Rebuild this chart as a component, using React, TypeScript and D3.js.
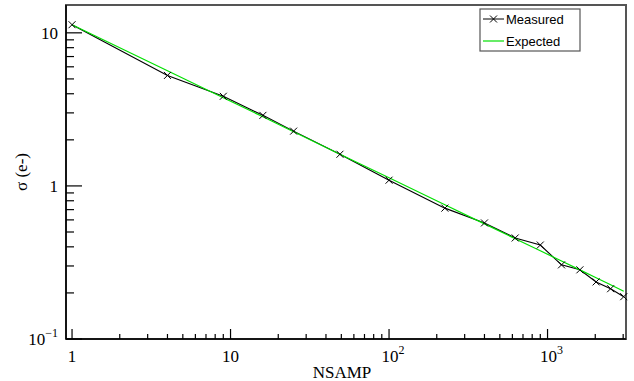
import React, { useEffect, useRef } from "react";
import * as d3 from "d3";

// NSAMP values and noise readings
const nsamp = [1, 4, 9, 16, 25, 49, 100, 225, 400, 625, 900, 1225, 1600, 2025, 2500, 3025];
const measured = [11.3, 5.27, 3.85, 2.89, 2.28, 1.61, 1.09, 0.716, 0.573, 0.457, 0.411, 0.305, 0.283, 0.236, 0.213, 0.189];
const expected = [11.3, 5.65, 3.77, 2.83, 2.26, 1.61, 1.13, 0.753, 0.565, 0.452, 0.377, 0.323, 0.283, 0.251, 0.226, 0.205];
const xTickLabels = [
  { v: 1, base: "1", exp: "" },
  { v: 10, base: "10", exp: "" },
  { v: 100, base: "10", exp: "2" },
  { v: 1000, base: "10", exp: "3" },
];
const yTickLabels = [
  { v: 0.1, base: "10", exp: "\u22121" },
  { v: 1, base: "1", exp: "" },
  { v: 10, base: "10", exp: "" },
];

const App = () => {
  const ref = useRef<SVGSVGElement>(null);

  useEffect(() => {
    const svg = d3.select(ref.current);
    svg.selectAll("*").remove();

    const left = 66, right = 626, top = 5, bottom = 339;
    const x = d3.scaleLog().domain([0.916, 3126]).range([left, right]);
    const y = d3.scaleLog().domain([0.1, 15.2]).range([bottom, top]);
    const serif = "'Liberation Serif', 'DejaVu Serif', serif";
    const sans = "'Liberation Sans', Arial, sans-serif";

    svg.append("rect").attr("width", 634).attr("height", 381).attr("fill", "white");

    // frame
    svg.append("rect")
      .attr("x", left).attr("y", top).attr("width", right - left).attr("height", bottom - top)
      .attr("fill", "none").attr("stroke", "#555").attr("stroke-width", 2);
    svg.append("line").attr("x1", left).attr("x2", left).attr("y1", top).attr("y2", bottom)
      .attr("stroke", "black").attr("stroke-width", 1.5);
    svg.append("line").attr("x1", left).attr("x2", right).attr("y1", bottom).attr("y2", bottom)
      .attr("stroke", "black").attr("stroke-width", 1.5);

    // x ticks
    const xt: { v: number; major: boolean }[] = [];
    for (let d = 1; d <= 1000; d *= 10) {
      for (let k = 1; k <= 9; k++) {
        const v = d * k;
        if (v <= 3126) xt.push({ v, major: k === 1 });
      }
    }
    svg.append("g").selectAll("line").data(xt).enter().append("line")
      .attr("x1", d => x(d.v)).attr("x2", d => x(d.v))
      .attr("y1", bottom).attr("y2", d => bottom - (d.major ? 10 : 5))
      .attr("stroke", "black").attr("stroke-width", 1.2);

    // y ticks
    const yt: { v: number; major: boolean }[] = [];
    for (let d = 0.1; d <= 10; d *= 10) {
      for (let k = 1; k <= 9; k++) {
        const v = d * k;
        if (v <= 15.2) yt.push({ v, major: k === 1 });
      }
    }
    svg.append("g").selectAll("line").data(yt).enter().append("line")
      .attr("x1", left).attr("x2", d => left + (d.major ? 16 : 8))
      .attr("y1", d => y(d.v)).attr("y2", d => y(d.v))
      .attr("stroke", "black").attr("stroke-width", 1.2);

    // x tick labels
    const xl = svg.append("g").selectAll("text").data(xTickLabels).enter().append("text")
      .attr("x", d => x(d.v) + (d.exp ? 4 : 0)).attr("y", 362)
      .attr("text-anchor", "middle").attr("font-family", serif).attr("font-size", 17);
    xl.append("tspan").text(d => d.base);
    xl.append("tspan").attr("dy", -8).attr("font-size", 12).text(d => d.exp);

    // y tick labels
    const yl = svg.append("g").selectAll("text").data(yTickLabels).enter().append("text")
      .attr("x", 58).attr("y", d => y(d.v) + 6)
      .attr("text-anchor", "end").attr("font-family", serif).attr("font-size", 17);
    yl.append("tspan").text(d => d.base);
    yl.append("tspan").attr("dy", -8).attr("font-size", 12).text(d => d.exp);

    // axis titles
    svg.append("text").attr("x", 342).attr("y", 378).attr("text-anchor", "middle")
      .attr("font-family", serif).attr("font-size", 17).text("NSAMP");
    svg.append("text").attr("transform", "translate(27,172) rotate(-90)")
      .attr("text-anchor", "middle").attr("font-family", serif).attr("font-size", 17)
      .text("\u03c3 (e-)");

    const line = d3.line<number>().x((_, i) => x(nsamp[i])).y(d => y(d));

    svg.append("path").datum(measured).attr("d", line)
      .attr("fill", "none").attr("stroke", "black").attr("stroke-width", 1.1);
    svg.append("path").datum(expected).attr("d", line)
      .attr("fill", "none").attr("stroke", "#00e000").attr("stroke-width", 1.2);

    // x markers
    const s = 3.5;
    const mk = svg.append("g").selectAll("g").data(measured).enter().append("g")
      .attr("transform", (d, i) => `translate(${x(nsamp[i])},${y(d)})`);
    mk.append("path").attr("d", `M${-s},${-s}L${s},${s}M${-s},${s}L${s},${-s}`)
      .attr("stroke", "black").attr("stroke-width", 1);

    // legend
    const lg = svg.append("g");
    lg.append("rect").attr("x", 480).attr("y", 9).attr("width", 100).attr("height", 42)
      .attr("fill", "white").attr("stroke", "#555").attr("stroke-width", 1.2);
    lg.append("line").attr("x1", 483).attr("x2", 504).attr("y1", 19).attr("y2", 19)
      .attr("stroke", "black").attr("stroke-width", 1);
    lg.append("path").attr("d", `M${493.5 - s},${19 - s}L${493.5 + s},${19 + s}M${493.5 - s},${19 + s}L${493.5 + s},${19 - s}`)
      .attr("stroke", "black").attr("stroke-width", 1);
    lg.append("line").attr("x1", 483).attr("x2", 504).attr("y1", 41).attr("y2", 41)
      .attr("stroke", "#00e000").attr("stroke-width", 1.2);
    lg.append("text").attr("x", 506).attr("y", 24).attr("font-family", sans).attr("font-size", 13)
      .text("Measured");
    lg.append("text").attr("x", 506).attr("y", 46).attr("font-family", sans).attr("font-size", 13)
      .text("Expected");
  }, []);

  return (
    <svg ref={ref} width={634} height={381}
      style={{ position: "absolute", left: 0, top: 0 }} />
  );
};

export default App;
